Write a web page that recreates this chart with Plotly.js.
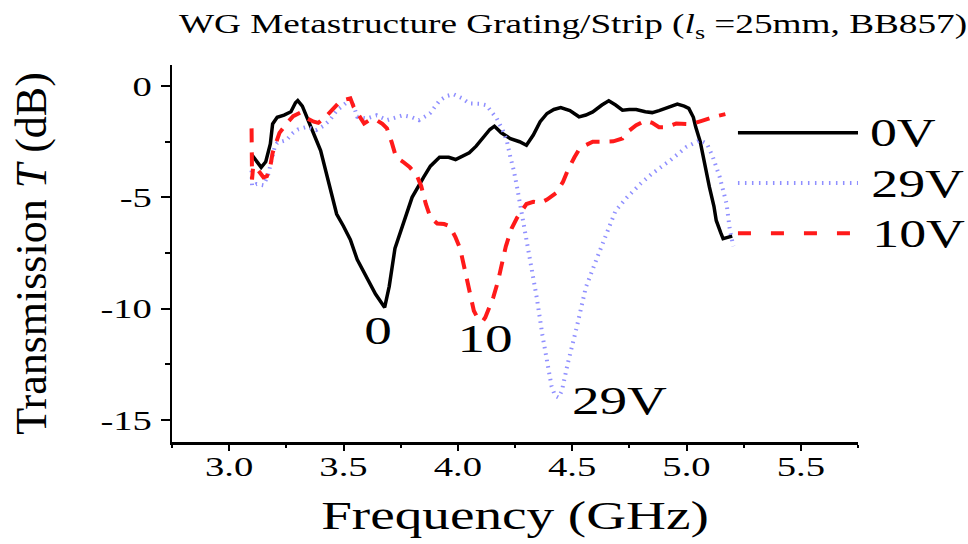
<!DOCTYPE html>
<html>
<head>
<meta charset="utf-8">
<script src="https://cdn.plot.ly/plotly-3.0.1.min.js"></script>
<style>html,body{margin:0;padding:0;background:#fff;}#chart{width:968px;height:544px;}</style>
</head>
<body>
<div id="chart"></div>
<script>
// ---- data ----
const freq0V = [3.10,3.12,3.14,3.16,3.18,3.19,3.21,3.24,3.27,3.29,3.30,3.32,3.35,3.38,3.40,3.43,3.45,3.47,3.50,3.53,3.56,3.60,3.64,3.68,3.70,3.725,3.76,3.80,3.85,3.88,3.92,3.96,3.99,4.02,4.05,4.08,4.11,4.14,4.16,4.19,4.23,4.27,4.30,4.33,4.36,4.39,4.42,4.45,4.49,4.53,4.56,4.59,4.63,4.66,4.69,4.72,4.75,4.78,4.82,4.85,4.88,4.91,4.94,4.96,4.99,5.01,5.03,5.04,5.06,5.07,5.09,5.10,5.12,5.13,5.15,5.16,5.18,5.20];
const T0V    = [-3.1,-3.4,-3.65,-3.4,-2.6,-1.7,-1.4,-1.3,-1.15,-0.75,-0.65,-0.9,-1.7,-2.4,-2.9,-4.1,-5.0,-5.75,-6.3,-6.9,-7.8,-8.6,-9.35,-9.95,-9.0,-7.3,-6.2,-5.0,-4.1,-3.6,-3.2,-3.2,-3.3,-3.15,-3.0,-2.7,-2.3,-1.95,-1.8,-2.1,-2.36,-2.5,-2.66,-2.2,-1.6,-1.23,-1.05,-0.96,-1.1,-1.38,-1.3,-1.16,-0.85,-0.66,-0.85,-1.08,-1.05,-1.05,-1.15,-1.19,-1.1,-1.0,-0.88,-0.81,-0.9,-1.0,-1.4,-1.83,-2.5,-3.03,-3.9,-4.53,-5.4,-6.04,-6.6,-6.86,-6.8,-6.74];

const freq10V = [3.098,3.10,3.105,3.12,3.15,3.165,3.18,3.19,3.20,3.22,3.25,3.28,3.31,3.34,3.37,3.39,3.42,3.45,3.48,3.51,3.53,3.545,3.57,3.59,3.61,3.64,3.67,3.69,3.71,3.73,3.76,3.79,3.82,3.84,3.86,3.88,3.91,3.94,3.965,3.99,4.01,4.03,4.05,4.07,4.09,4.11,4.12,4.14,4.155,4.175,4.19,4.21,4.235,4.26,4.28,4.30,4.33,4.36,4.39,4.43,4.46,4.48,4.51,4.53,4.56,4.59,4.63,4.68,4.72,4.75,4.78,4.82,4.85,4.88,4.91,4.955,5.00,5.03,5.07,5.12,5.17];
const T10V    = [-1.9,-4.2,-3.6,-3.7,-4.1,-4.05,-3.6,-3.0,-2.7,-2.1,-1.7,-1.35,-1.2,-1.45,-1.6,-1.65,-1.4,-1.1,-0.75,-0.6,-0.55,-0.95,-1.4,-1.68,-1.55,-1.5,-1.7,-1.9,-2.5,-3.2,-3.4,-3.65,-4.0,-4.5,-5.3,-5.9,-6.18,-6.2,-6.3,-6.8,-7.3,-8.2,-9.3,-10.1,-10.5,-10.55,-10.4,-9.9,-9.5,-8.8,-8.1,-7.2,-6.4,-5.9,-5.6,-5.3,-5.2,-5.25,-5.1,-4.8,-4.3,-3.8,-3.2,-2.85,-2.65,-2.5,-2.5,-2.48,-2.35,-2.0,-1.76,-1.55,-1.65,-1.85,-1.85,-1.68,-1.7,-1.68,-1.55,-1.38,-1.26];

const freq29V = [3.098,3.10,3.12,3.15,3.17,3.185,3.20,3.21,3.25,3.28,3.30,3.34,3.38,3.41,3.44,3.47,3.50,3.53,3.545,3.56,3.60,3.645,3.69,3.72,3.76,3.80,3.83,3.86,3.88,3.92,3.95,3.98,4.02,4.05,4.10,4.125,4.155,4.17,4.20,4.215,4.23,4.245,4.26,4.285,4.30,4.315,4.345,4.37,4.395,4.41,4.425,4.44,4.455,4.48,4.52,4.56,4.61,4.65,4.69,4.74,4.80,4.85,4.93,5.00,5.06,5.09,5.115,5.145,5.175,5.19,5.205];
const T29V    = [-3.8,-4.5,-4.4,-4.46,-4.0,-3.33,-2.7,-2.55,-2.43,-2.1,-1.95,-1.83,-1.98,-1.8,-1.53,-1.1,-0.85,-0.6,-0.9,-1.38,-1.46,-1.31,-1.53,-1.45,-1.31,-1.4,-1.53,-1.35,-1.2,-0.65,-0.45,-0.36,-0.55,-0.78,-0.8,-0.86,-1.3,-1.45,-2.06,-2.5,-3.2,-3.8,-4.6,-6.0,-7.0,-7.7,-9.5,-11.2,-12.8,-13.5,-13.92,-14.0,-13.7,-12.5,-10.84,-9.04,-7.69,-6.64,-5.6,-5.0,-4.38,-3.93,-3.33,-2.73,-2.43,-2.6,-3.18,-4.08,-5.28,-6.49,-7.2];

const seriesNames = ['0V','29V','10V'];
const yTickVals = [0,-5,-10,-15];
const yTickText = ['0','-5','-10','-15'];
const curveLabels = ['0','10','29V'];
const curveLabelX = [3.652,4.118,4.708];
const curveLabelY = [-10.99,-11.35,-14.14];

// ---- styling ----
const FONT = '"Liberation Serif","Times New Roman",Times,serif';
const colors = {'0V':'#000000','29V':'#8f8fff','10V':'#ff1a1a'};
const lines = {
  '0V': {color: colors['0V'], width: 3.5, dash: 'solid'},
  '29V': {color: colors['29V'], width: 4, dash: '1.5px,5px'},
  '10V': {color: colors['10V'], width: 4, dash: '14px,10px'}
};

const traces = [
  {x: freq0V, y: T0V, name: seriesNames[0], mode: 'lines', line: lines['0V']},
  {x: freq29V, y: T29V, name: seriesNames[1], mode: 'lines', line: lines['29V']},
  {x: freq10V, y: T10V, name: seriesNames[2], mode: 'lines', line: lines['10V']}
];

// legend drawn as shapes + labels at the right
const legY = [0.82, 0.687, 0.554];
const legLabelX = [1.0655, 1.0865, 1.0885];
const shapes = seriesNames.map((n,i)=>({
  type:'line', xref:'paper', yref:'paper', x0:0.825, x1:1.0, y0:legY[i], y1:legY[i],
  line:{color:colors[n], width: n==='0V'?3.5:4, dash: n==='0V'?'solid':(n==='29V'?'1.5px,5.5px':'13px,20px')}
}));
const annotations = seriesNames.map((n,i)=>({
  text:n, xref:'paper', yref:'paper', x:legLabelX[i], y:legY[i], xanchor:'center', yanchor:'middle',
  showarrow:false, font:{family:FONT, size:39, color:'#000'}
})).concat(curveLabels.map((t,i)=>({
  text:t, xref:'x', yref:'y', x:curveLabelX[i], y:curveLabelY[i], xanchor:'center', yanchor:'middle',
  showarrow:false, font:{family:FONT, size:40, color:'#000'}
})));

const layout = {
  width: 968, height: 544,
  margin: {l:172, r:110, t:65, b:102},
  paper_bgcolor:'#fff', plot_bgcolor:'#fff',
  showlegend:false,
  font:{family:FONT, color:'#000'},
  title:{text:'WG Metastructure Grating/Strip (<i>l</i><sub>s</sub> =25mm, BB857)',
    font:{family:FONT, size:27, color:'#000'}, xref:'container', yref:'container',
    x:573/968, xanchor:'center', y:1-24/544, yanchor:'middle'},
  xaxis:{range:[2.75,5.75], showgrid:false, zeroline:false, showline:true, linecolor:'#000', linewidth:2.5,
    ticks:'outside', ticklen:6, tickwidth:2, tickcolor:'#000', dtick:0.5, tick0:3.0, tickformat:'.1f',
    ticklabelstandoff:-8,
    minor:{ticks:'outside', ticklen:3, tickwidth:2, tickcolor:'#000', dtick:0.25},
    tickfont:{family:FONT, size:28, color:'#000'},
    title:{text:'Frequency (GHz)', font:{family:FONT, size:40, color:'#000'}, standoff:20}},
  yaxis:{range:[-16,0.95], showgrid:false, zeroline:false, showline:true, linecolor:'#000', linewidth:2.5,
    ticks:'outside', ticklen:9, tickwidth:2, tickcolor:'#000', tickmode:'array', tickvals:yTickVals, ticktext:yTickText,
    ticklabelstandoff:3,
    minor:{ticks:'outside', ticklen:5, tickwidth:2, tickcolor:'#000', tickmode:'linear', tick0:0, dtick:2.5},
    tickfont:{family:FONT, size:28, color:'#000'},
    title:{text:'Transmission <i>T</i> (dB)', font:{family:FONT, size:44, color:'#000'}, standoff:54}},
  shapes: shapes,
  annotations: annotations
};

// the reference typesetting is horizontally wide; stretch text glyphs about their anchor
function stretchText(gd){
  const S = 1.38;
  gd.querySelectorAll('.xtick text, .ytick text, .gtitle, .xtitle, .annotation-text').forEach(t=>{
    const x = parseFloat(t.getAttribute('x')||'0') || 0;
    const tr = t.getAttribute('transform')||'';
    t.setAttribute('transform', (tr+' translate('+x+',0) scale('+S+',1) translate('+(-x)+',0)').trim());
  });
}

Plotly.newPlot('chart', traces, layout, {staticPlot:true, displayModeBar:false}).then(stretchText);
</script>
</body>
</html>
